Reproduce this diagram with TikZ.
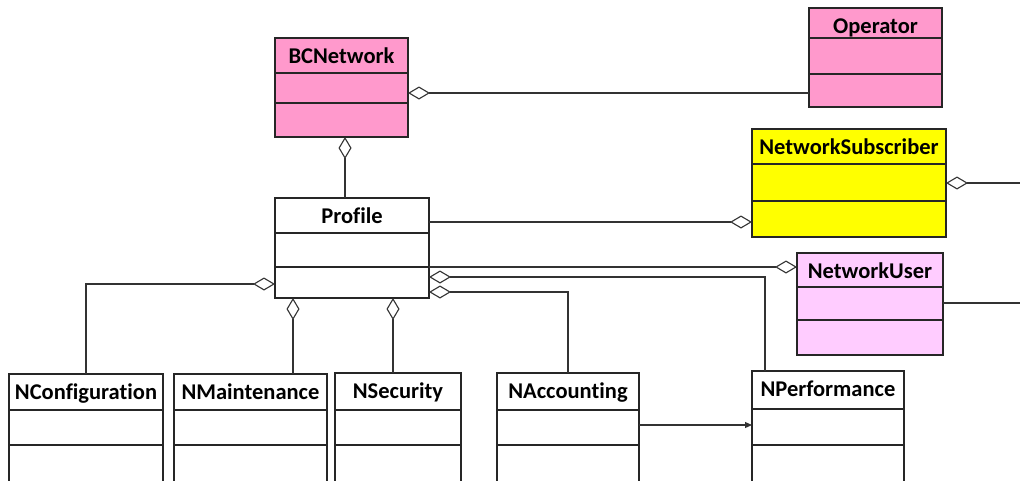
\documentclass[tikz,border=0pt]{standalone}
\usepackage{fontspec}
\setmainfont{Carlito}[Ligatures=NoCommon]
\usetikzlibrary{arrows.meta}
\definecolor{pinkA}{HTML}{FF99CC}
\definecolor{yel}{HTML}{FFFF00}
\definecolor{pinkB}{HTML}{FFCCFF}
\newcommand\umlclass[9]{%
 \pgfmathsetmacro\clsW{#4-#2}\pgfmathsetmacro\clsH{#5-#3}%
 \node[cls, fill=#8, minimum width=\clsW pt, minimum height=\clsH pt] (#1) at ({(#2+#4)/2},{(#3+#5)/2}) {};
 \draw[cls] (#1.west |- 0,#6) -- (#1.east |- 0,#6);
 \draw[cls] (#1.west |- 0,#7) -- (#1.east |- 0,#7);
 \node[ttl] (#1-t) at ({(#2+#4)/2},{#3+25}) {#9};}
\begin{document}
\begin{tikzpicture}[x=1pt,y=-1pt,
  cls/.style={draw=black!85, line width=1.2pt, inner sep=0pt, outer sep=0pt},
  ttl/.style={font=\fontsize{22.5}{26}\selectfont\bfseries, anchor=base, inner sep=0pt},
  conn/.style={draw=black!80, line width=1.1pt},
  agg/.style={conn, {Diamond[open,length=22pt,width=13pt]}-},
  agge/.style={conn, -{Diamond[open,length=22pt,width=13pt]}}]
\useasboundingbox (0,0) rectangle (1020,480);
\clip (0,0) rectangle (1020,480);

\umlclass{bc}{275}{38}{408}{137}{73}{103}{pinkA}{BCNetwork}
\umlclass{op}{809}{8}{942}{107}{38}{74}{pinkA}{Operator}
\umlclass{nsub}{752}{129}{946}{237}{164}{201}{yel}{NetworkSubscriber}
\umlclass{pr}{275}{198}{429}{298}{233}{267}{white}{Profile}
\umlclass{nu}{797}{253}{943}{355}{287}{320}{pinkB}{NetworkUser}
\umlclass{nc}{9}{374}{163}{490}{410}{445}{white}{NConfiguration}
\umlclass{nm}{174}{374}{327}{490}{410}{445}{white}{NMaintenance}
\umlclass{ns}{335}{373}{461}{490}{410}{445}{white}{NSecurity}
\umlclass{na}{497}{373}{639}{490}{410}{445}{white}{NAccounting}
\umlclass{np}{752}{371}{904}{490}{409}{445}{white}{NPerformance}

\draw[agg] (bc.east |- 0,93) -- (op.west |- 0,93);
\path ([xshift=70pt]bc.south west) coordinate (bcp);
\draw[agg] (bcp) -- (bcp |- pr.north);

\draw[agge] (pr.east |- 0,222) -- (nsub.west |- 0,222);
\draw[agge] (pr.east |- 0,267) -- (nu.west |- 0,267);
\draw[agg] (pr.east |- 0,277) -| ([xshift=13pt]np.north west);
\draw[agg] (pr.east |- 0,292) -| (na.north);
\draw[agg] (pr.west |- 0,284) -| (nc.north);
\path ([xshift=18pt]pr.south west) coordinate (pm);
\path ([xshift=118pt]pr.south west) coordinate (ps);
\draw[agg] (pm) -- (pm |- nm.north);
\draw[agg] (ps) -- (ps |- ns.north);

\coordinate (e1) at (1020,183);
\draw[agg] (nsub.east |- e1) -- (e1);
\coordinate (e2) at (1020,303);
\draw[conn] (nu.east |- e2) -- (e2);

\draw[conn, -{Triangle[length=7pt,width=6pt]}] (na.east |- 0,425) -- (np.west |- 0,425);
\end{tikzpicture}
\end{document}
